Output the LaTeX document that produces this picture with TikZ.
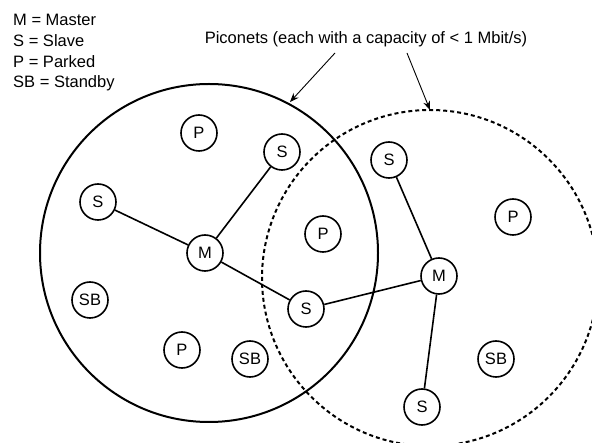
\documentclass[tikz,border=0pt]{standalone}
\usepackage{fontspec}
\setmainfont{Liberation Sans}
\usetikzlibrary{arrows.meta}
\begin{document}
\begin{tikzpicture}[x=1pt,y=-1pt,
  dev/.style={circle,draw,line width=1.6pt,minimum size=36pt,inner sep=0pt,font=\fontsize{16.5}{20}\selectfont},
  link/.style={line width=1.6pt},
  lbl/.style={anchor=base west,inner sep=0pt,font=\fontsize{16.5}{20}\selectfont},
  ptr/.style={line width=0.9pt,-{Stealth[length=9pt,width=7pt]}}]
\useasboundingbox (0,0) rectangle (592,443);
\clip (0,0) rectangle (592,443);
\fill[white] (0,0) rectangle (592,443);
% piconets
\draw[line width=2pt] (209,253) circle[radius=169];
\draw[line width=2pt,dash pattern=on 4pt off 3pt] (430,278) circle[radius=168];
\coordinate (c1) at (290,102);
\coordinate (c2) at (430,110);
% legend
\node[lbl] (l1) at (13,25.5) {M = Master};
\node[lbl] (l2) at (13,46.5) {S = Slave};
\node[lbl] (l3) at (13,67.5) {P = Parked};
\node[lbl] (l4) at (13,88) {SB = Standby};
\node[anchor=base,inner sep=0pt,font=\fontsize{16.5}{20}\selectfont] (title) at (366,43.5) {Piconets (each with a capacity of < 1 Mbit/s)};
\coordinate (t1) at (335,53);
\coordinate (t2) at (407,53);
\draw[ptr] (t1) -- (c1);
\draw[ptr] (t2) -- (c2);
% left piconet
\node[dev] (M1) at (205,253) {M};
\node[dev] (P1) at (199,133) {P};
\node[dev] (S1) at (282,152) {S};
\node[dev] (S2) at (98,202) {S};
\node[dev] (P2) at (323,234) {P};
\node[dev] (SB1) at (90,300) {SB};
\node[dev] (P3) at (182,350) {P};
\node[dev] (SB2) at (250,359) {SB};
\node[dev] (S3) at (306,309) {S};
% right piconet
\node[dev] (M2) at (439,276) {M};
\node[dev] (S4) at (389,160) {S};
\node[dev] (P4) at (513,217) {P};
\node[dev] (SB3) at (496,359) {SB};
\node[dev] (S5) at (422,407) {S};
% links
\draw[link] (M1) -- (S2);
\draw[link] (M1) -- (S1);
\draw[link] (M1) -- (S3);
\draw[link] (M2) -- (S3);
\draw[link] (M2) -- (S4);
\draw[link] (M2) -- (S5);
\end{tikzpicture}
\end{document}
